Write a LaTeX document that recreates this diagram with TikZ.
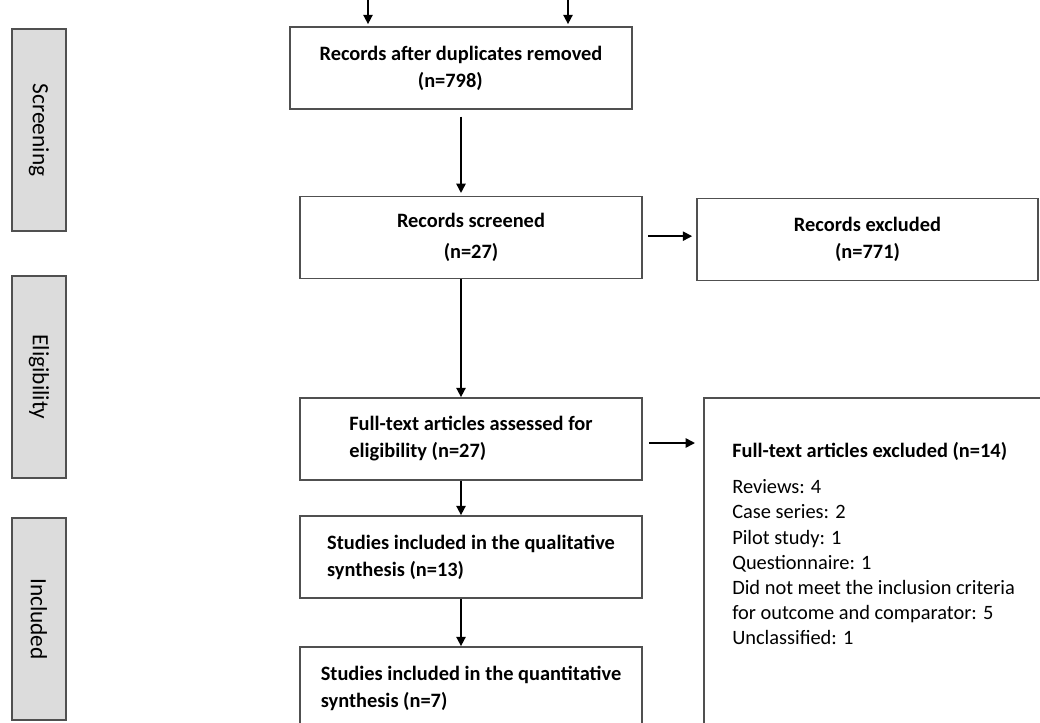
\documentclass[tikz,border=0pt]{standalone}
\usepackage{fontspec}
\setmainfont{Carlito}
\usetikzlibrary{arrows.meta}
\definecolor{boxline}{HTML}{505050}
\definecolor{barfill}{HTML}{DCDCDC}
\tikzset{
	stage/.style = {draw=boxline, fill=barfill, line width=1.3pt, rotate=-90, minimum width=151.5pt, minimum height=40.5pt, inner sep=0pt, font=\fontsize{17.5}{20}\selectfont},
	flowbox/.style = {draw=boxline, line width=1.3pt, minimum width=256.5pt, minimum height=61.5pt, inner sep=0pt, align=center, font=\bfseries\fontsize{15.3}{20.25}\selectfont},
	listtext/.style = {inner sep=0pt, align=left, font=\fontsize{15.3}{18.9}\selectfont},
	flowarrow/.style = {-{Triangle[length=7pt, width=7pt]}, line width=1.2pt}
}

\begin{document}
\begin{tikzpicture}[x=0.75pt, y=-0.75pt]
		\useasboundingbox (0,0) rectangle (1040,722);
		\clip (0,0) rectangle (1040,722);

		\node[stage] (screening) at (39,130) {Screening};
		\node[stage] (eligibility) at (39,377) {Eligibility};
		\node[stage] (included) at (39,619) {Included};

		\node[flowbox] (dup) at (461,68) {Records after duplicates removed\\\hspace*{-16pt}(n=798)};
		\node[flowbox] (screened) at (471,237.5) {Records screened\\[3pt](n=27)};
		\node[flowbox, minimum width=255.75pt] (excl) at (867.5,239.5) {Records excluded\\(n=771)};
		\node[flowbox, align=left] (fulltext) at (471,439) {Full-text articles assessed for\\eligibility (n=27)};
		\node[flowbox, align=left] (qual) at (471,557) {Studies included in the qualitative\\synthesis (n=13)};
		\node[flowbox, align=left] (quant) at (471,688) {Studies included in the quantitative\\synthesis (n=7)};
		\node[flowbox, anchor=north west, minimum width=300pt, minimum height=300pt] (ftexcl) at (703,397) {};
		\node[listtext, anchor=north west] (ftlist) at (732,442.5) {\textbf{Full-text articles excluded (n=14)}\\[8pt]
			Reviews: 4\\
			Case series: 2\\
			Pilot study: 1\\
			Questionnaire: 1\\
			Did not meet the inclusion criteria\\
			for outcome and comparator: 5\\
			Unclassified: 1};

		\coordinate (inleft) at (368,0);
		\coordinate (inright) at (568,0);
		\draw[flowarrow, shorten >=1.5pt] (inleft) -- (inleft |- dup.north);
		\draw[flowarrow, shorten >=1.5pt] (inright) -- (inright |- dup.north);

		\draw[flowarrow, shorten <=5pt, shorten >=2pt] (dup) -- (dup |- screened.north);
		\draw[flowarrow] (dup |- screened.south) -- (dup |- fulltext.north);
		\draw[flowarrow] (dup |- fulltext.south) -- (dup |- qual.north);
		\draw[flowarrow] (dup |- qual.south) -- (dup |- quant.north);

		\draw[flowarrow, shorten <=4pt, shorten >=3pt] ([yshift=1pt]screened.east) -- ([yshift=1pt]screened.east -| excl.west);
		\draw[flowarrow, shorten <=4.5pt, shorten >=6pt] ([yshift=-3pt]fulltext.east) -- ([yshift=-3pt]fulltext.east -| ftexcl.west);
\end{tikzpicture}
\end{document}
